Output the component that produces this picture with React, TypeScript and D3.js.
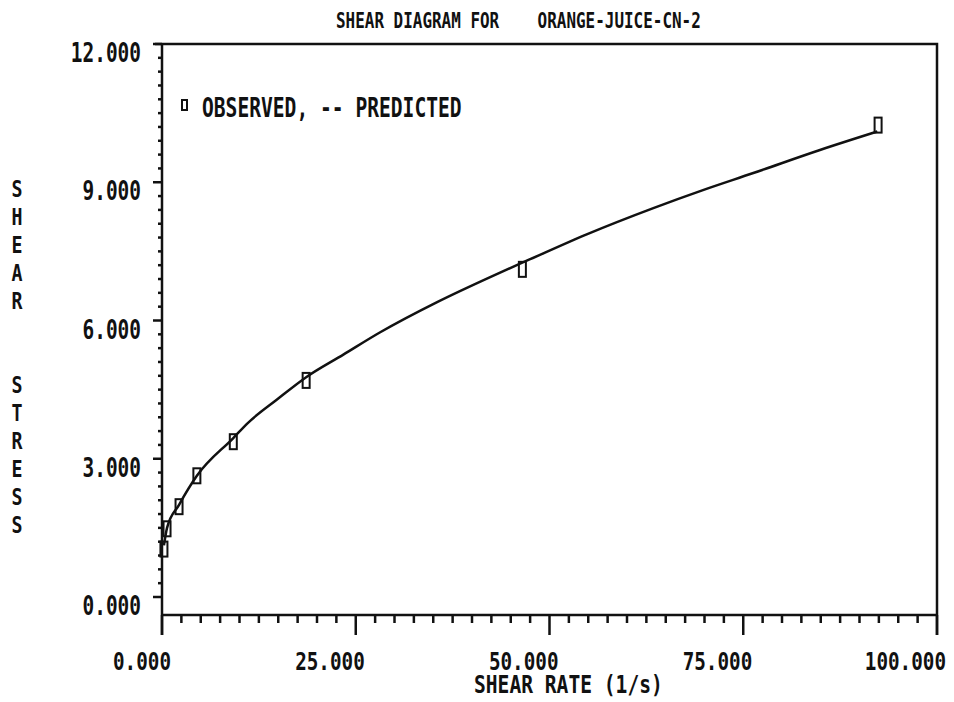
import { useEffect, useRef } from 'react'
import * as d3 from 'd3'

// observed (squares)
const OBS_RATE = [0.25, 0.65, 2.2, 4.5, 9.2, 18.6, 46.5, 92.4]
const OBS_STRESS = [1.04, 1.48, 1.96, 2.63, 3.37, 4.7, 7.11, 10.24]

// predicted curve
const PRED_RATE = [0.25, 0.65, 2.2, 4.5, 9.2, 11.1, 14.8, 18.6, 23.4, 28.1, 35.5, 42.7, 47.5, 54.8, 63.4, 69.8, 76.3, 84.9, 92.3]
const PRED_STRESS = [1.12, 1.5, 2.0, 2.63, 3.45, 3.78, 4.28, 4.77, 5.26, 5.74, 6.4, 6.97, 7.33, 7.87, 8.44, 8.83, 9.2, 9.7, 10.1]

const X_TICKS = [0, 25, 50, 75, 100]
const X_TICK_LABELS = ['0.000', '25.000', '50.000', '75.000', '100.000']
const Y_TICKS = [0, 3, 6, 9, 12]
const Y_TICK_LABELS = ['0.000', '3.000', '6.000', '9.000', '12.000']

const TITLE = 'SHEAR DIAGRAM FOR    ORANGE-JUICE-CN-2'
const LEGEND = 'OBSERVED, -- PREDICTED'
const X_LABEL = 'SHEAR RATE (1/s)'
const Y_LABEL = 'SHEAR  STRESS'

const FONT = '"DejaVu Sans Mono", monospace'
const INK = '#111'

export default function App() {
  const svgRef = useRef<SVGSVGElement>(null)

  useEffect(() => {
    if (!svgRef.current) return
    const svg = d3.select(svgRef.current)
    svg.selectAll('*').remove()

    const left = 162
    const right = 937
    const top = 44
    const bottom = 615

    const x = d3.scaleLinear().domain([0, 100]).range([left, right])
    const y = d3.scaleLinear().domain([0, 12]).range([597, top])

    svg.append('rect').attr('width', 954).attr('height', 702).attr('fill', '#fff')

    const g = svg.append('g').attr('stroke', INK).attr('stroke-width', 2.5).attr('fill', 'none')

    // frame
    g.append('path')
      .attr('d', `M${left - 7},${top}H${right}V${bottom + 20}M${left},${top}V${bottom + 20}M${left},${bottom}H${right}`)

    // x ticks
    d3.range(0, 100.01, 2.5).forEach((v) => {
      const major = X_TICKS.includes(v)
      g.append('line')
        .attr('x1', x(v)).attr('x2', x(v))
        .attr('y1', bottom).attr('y2', bottom + (major ? 20 : 8))
    })

    // y ticks
    d3.range(0, 12.01, 0.3).forEach((v) => {
      const major = Y_TICKS.some((t) => Math.abs(t - v) < 1e-6)
      g.append('line')
        .attr('x1', left - (major ? 9 : 4)).attr('x2', left)
        .attr('y1', y(v)).attr('y2', y(v))
    })

    // predicted curve
    const line = d3.line<number>()
      .x((_, i) => x(PRED_RATE[i]))
      .y((d) => y(d))
      .curve(d3.curveMonotoneX)
    g.append('path').attr('d', line(PRED_STRESS)).attr('stroke-width', 2.5)

    // observed squares
    OBS_RATE.forEach((r, i) => {
      g.append('rect')
        .attr('x', x(r) - 3.5).attr('y', y(OBS_STRESS[i]) - 7.5)
        .attr('width', 7).attr('height', 15)
        .attr('stroke-width', 2)
    })

    const txt = svg.append('g')
      .attr('fill', INK)
      .attr('font-family', FONT)
      .attr('font-weight', 'bold')

    // y tick labels
    Y_TICKS.forEach((t, i) => {
      const s = Y_TICK_LABELS[i]
      txt.append('text')
        .attr('x', 141).attr('y', y(t) + 18)
        .attr('text-anchor', 'end')
        .attr('font-size', 26)
        .attr('textLength', s.length * 11.7)
        .attr('lengthAdjust', 'spacingAndGlyphs')
        .text(s)
    })

    // x tick labels
    X_TICKS.forEach((t, i) => {
      const s = X_TICK_LABELS[i]
      txt.append('text')
        .attr('x', x(t) + 9).attr('y', 670)
        .attr('text-anchor', 'end')
        .attr('font-size', 25)
        .attr('textLength', s.length * 11.6)
        .attr('lengthAdjust', 'spacingAndGlyphs')
        .text(s)
    })

    // title
    txt.append('text')
      .attr('x', 336).attr('y', 28)
      .attr('font-size', 20.5)
      .attr('textLength', TITLE.length * 9.6)
      .attr('lengthAdjust', 'spacingAndGlyphs')
      .attr('xml:space', 'preserve')
      .style('white-space', 'pre')
      .text(TITLE)

    // x label
    txt.append('text')
      .attr('x', 474).attr('y', 693)
      .attr('font-size', 25)
      .attr('textLength', X_LABEL.length * 11.8)
      .attr('lengthAdjust', 'spacingAndGlyphs')
      .text(X_LABEL)

    // y label, stacked letters
    Y_LABEL.split('').forEach((c, i) => {
      if (c === ' ') return
      txt.append('text')
        .attr('x', 17).attr('y', 197 + i * 28)
        .attr('text-anchor', 'middle')
        .attr('font-size', 23)
        .attr('textLength', 11)
        .attr('lengthAdjust', 'spacingAndGlyphs')
        .text(c)
    })

    // legend
    svg.append('rect')
      .attr('x', 182).attr('y', 100)
      .attr('width', 5).attr('height', 10)
      .attr('fill', 'none').attr('stroke', INK).attr('stroke-width', 2)
    txt.append('text')
      .attr('x', 202).attr('y', 117)
      .attr('font-size', 26)
      .attr('textLength', LEGEND.length * 11.8)
      .attr('lengthAdjust', 'spacingAndGlyphs')
      .text(LEGEND)
  }, [])

  return (
    <svg
      ref={svgRef}
      width={954}
      height={702}
      style={{ position: 'absolute', left: 0, top: 0 }}
    />
  )
}
